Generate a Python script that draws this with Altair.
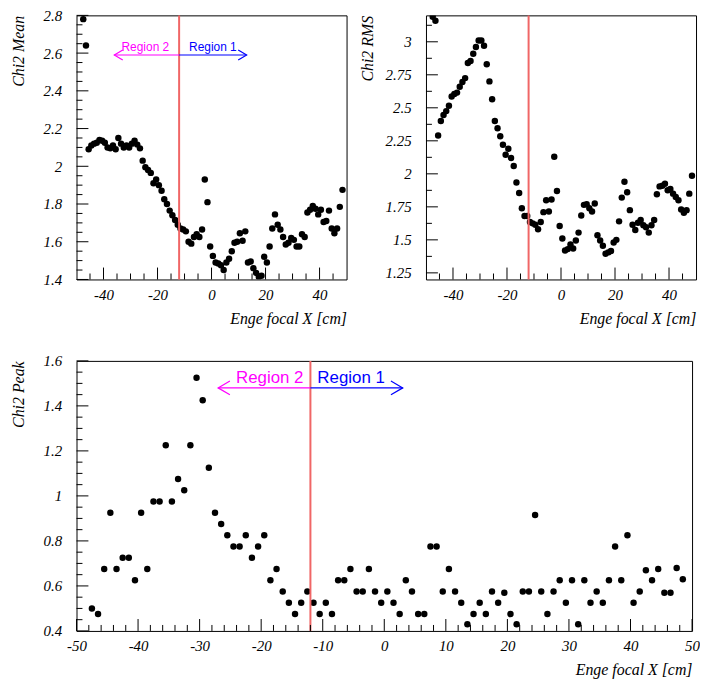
import altair as alt
import pandas as pd

x_centers = [
    -47.5, -46.5, -45.5, -44.5, -43.5, -42.5, -41.5, -40.5, -39.5, -38.5,
    -37.5, -36.5, -35.5, -34.5, -33.5, -32.5, -31.5, -30.5, -29.5, -28.5,
    -27.5, -26.5, -25.5, -24.5, -23.5, -22.5, -21.5, -20.5, -19.5, -18.5,
    -17.5, -16.5, -15.5, -14.5, -13.5, -12.5, -11.5, -10.5, -9.5, -8.5,
    -7.5, -6.5, -5.5, -4.5, -3.5, -2.5, -1.5, -0.5, 0.5, 1.5,
    2.5, 3.5, 4.5, 5.5, 6.5, 7.5, 8.5, 9.5, 10.5, 11.5,
    12.5, 13.5, 14.5, 15.5, 16.5, 17.5, 18.5, 19.5, 20.5, 21.5,
    22.5, 23.5, 24.5, 25.5, 26.5, 27.5, 28.5, 29.5, 30.5, 31.5,
    32.5, 33.5, 34.5, 35.5, 36.5, 37.5, 38.5, 39.5, 40.5, 41.5,
    42.5, 43.5, 44.5, 45.5, 46.5, 47.5, 48.5,
]

chi2_mean = [
    2.78, 2.64, 2.09, 2.11, 2.12, 2.125, 2.14, 2.135, 2.125, 2.10,
    2.095, 2.11, 2.09, 2.15, 2.12, 2.10, 2.11, 2.10, 2.12, 2.135,
    2.115, 2.095, 2.03, 1.995, 1.98, 1.965, 1.91, 1.93, 1.90, 1.87,
    1.825, 1.80, 1.765, 1.74, 1.715, 1.69, 1.67, 1.665, 1.655, 1.60,
    1.59, 1.625, 1.64, 1.625, 1.665, 1.93, 1.81, 1.575, 1.525, 1.49,
    1.485, 1.475, 1.45, 1.49, 1.51, 1.55, 1.595, 1.60, 1.645, 1.605,
    1.655, 1.49, 1.495, 1.46, 1.435, 1.415, 1.42, 1.52, 1.49, 1.575,
    1.67, 1.745, 1.69, 1.665, 1.625, 1.585, 1.595, 1.62, 1.61, 1.575,
    1.575, 1.64, 1.625, 1.755, 1.77, 1.79, 1.775, 1.745, 1.77, 1.705,
    1.71, 1.765, 1.67, 1.645, 1.67, 1.785, 1.875,
]

chi2_rms = [
    3.19, 3.16, 2.29, 2.40, 2.445, 2.475, 2.515, 2.585, 2.605, 2.615,
    2.66, 2.695, 2.725, 2.84, 2.855, 2.91, 2.96, 3.01, 3.01, 2.97,
    2.83, 2.70, 2.565, 2.40, 2.345, 2.285, 2.22, 2.145, 2.19, 2.12,
    2.06, 1.935, 1.855, 1.74, 1.68, 1.68, 1.635, 1.625, 1.615, 1.58,
    1.635, 1.71, 1.80, 1.715, 1.805, 2.13, 1.87, 1.605, 1.51, 1.42,
    1.43, 1.465, 1.435, 1.495, 1.555, 1.685, 1.765, 1.77, 1.74, 1.715,
    1.775, 1.535, 1.495, 1.455, 1.395, 1.405, 1.415, 1.48, 1.50, 1.64,
    1.82, 1.94, 1.86, 1.725, 1.615, 1.575, 1.63, 1.65, 1.61, 1.595,
    1.555, 1.61, 1.65, 1.845, 1.905, 1.91, 1.925, 1.875, 1.885, 1.85,
    1.825, 1.80, 1.73, 1.705, 1.725, 1.85, 1.985,
]

chi2_peak = [
    0.50, 0.475, 0.675, 0.925, 0.675, 0.725, 0.725, 0.625, 0.925, 0.675,
    0.975, 0.975, 1.225, 0.975, 1.075, 1.025, 1.225, 1.525, 1.425, 1.125,
    0.925, 0.875, 0.825, 0.775, 0.775, 0.825, 0.725, 0.775, 0.825, 0.625,
    0.675, 0.575, 0.525, 0.475, 0.525, 0.575, 0.525, 0.475, 0.525, 0.475,
    0.625, 0.625, 0.675, 0.575, 0.575, 0.675, 0.575, 0.525, 0.575, 0.525,
    0.475, 0.625, 0.575, 0.475, 0.475, 0.775, 0.775, 0.575, 0.675, 0.575,
    0.525, 0.43, 0.475, 0.525, 0.475, 0.575, 0.525, 0.57, 0.475, 0.43,
    0.575, 0.575, 0.915, 0.575, 0.475, 0.575, 0.625, 0.525, 0.625, 0.43,
    0.625, 0.525, 0.575, 0.525, 0.625, 0.775, 0.625, 0.825, 0.525, 0.575,
    0.67, 0.625, 0.675, 0.57, 0.57, 0.68, 0.63,
]

# axis tick positions (major ticks carry labels)
top_x_major = [-40, -20, 0, 20, 40]
top_x_minor = [-45, -35, -30, -25, -15, -10, -5, 5, 10, 15, 25, 30, 35, 45]
bottom_x_major = [-50, -40, -30, -20, -10, 0, 10, 20, 30, 40, 50]
bottom_x_minor = [v for v in range(-48, 49, 2) if v % 10 != 0]
mean_y_major = [1.4, 1.6, 1.8, 2, 2.2, 2.4, 2.6, 2.8]
mean_y_minor = [round(1.4 + 0.05 * i, 2) for i in range(29) if i % 4 != 0]
rms_y_major = [1.25, 1.5, 1.75, 2, 2.25, 2.5, 2.75, 3]
rms_y_minor = [1.375, 1.625, 1.875, 2.125, 2.375, 2.625, 2.875, 3.125]
peak_y_major = [0.4, 0.6, 0.8, 1, 1.2, 1.4, 1.6]
peak_y_minor = [round(0.4 + 0.05 * i, 2) for i in range(25) if i % 4 != 0]

x_title = "Enge focal X [cm]"
x_domain = [-50, 50]
boundary_x = -12
SERIF = "Liberation Serif"
SANS = "Liberation Sans"
RED = "#f06666"
MAGENTA = "#ff00ff"
BLUE = "#0000ff"
LEFT_HEAD = "M1.7,-1L0,0L1.7,1"
RIGHT_HEAD = "M-1.7,-1L0,0L-1.7,1"
MAJOR_LEN = 12  # tick lengths in pixels
MINOR_LEN = 6


def make_axis(values, title, orient):
    common = dict(
        values=values,
        title=title,
        domain=False,
        grid=False,
        ticks=False,
        labelExpr="'' + datum.value",
        labelFont=SERIF,
        labelFontStyle="italic",
        labelFontSize=15,
        labelColor="black",
        labelOverlap=False,
        labelFlush=False,
        titleFont=SERIF,
        titleFontStyle="italic",
        titleFontSize=16,
        titleFontWeight="normal",
        titleColor="black",
        titleAnchor="end",
        titleBaseline="middle",
    )
    if orient == "x":
        common.update(labelPadding=8, titleY=39)
    else:
        common.update(labelPadding=15, titleX=-58.5)
    return alt.Axis(**common)


def build_panel(vals, ydom, ymajor, yminor, ytitle, xmajor, xminor, width, height, region=None):
    df = pd.DataFrame({"x": x_centers, "y": vals})
    xs = alt.Scale(domain=x_domain, nice=False, zero=False)
    ys = alt.Scale(domain=ydom, nice=False, zero=False)
    xa = make_axis(xmajor, x_title, "x")
    ya = make_axis(ymajor, ytitle, "y")
    one = pd.DataFrame({"k": [0]})
    x_per_px = (x_domain[1] - x_domain[0]) / width
    y_per_px = (ydom[1] - ydom[0]) / height

    def xq(field):
        return alt.X(field, type="quantitative", scale=xs, axis=xa, title=x_title)

    def yq(field):
        return alt.Y(field, type="quantitative", scale=ys, axis=ya, title=ytitle)

    def xdat(v):
        return alt.XDatum(v, scale=xs, axis=xa, title=x_title, type="quantitative")

    def ydat(v):
        return alt.YDatum(v, scale=ys, axis=ya, title=ytitle, type="quantitative")

    layers = [
        alt.Chart(df).mark_circle(size=42, color="black", opacity=1, clip=True).encode(
            x=xq("x"), y=yq("y")),
        alt.Chart(one).mark_rule(color=RED, strokeWidth=2).encode(x=xdat(boundary_x)),
    ]

    # tick marks drawn inside the frame, one short segment per tick value
    for ticks, ln in [(xmajor, MAJOR_LEN), (xminor, MINOR_LEN)]:
        for t in ticks:
            layers.append(alt.Chart(one).mark_rule(color="black", strokeWidth=1).encode(
                x=xdat(t), y=ydat(ydom[0]), y2=alt.Y2Datum(ydom[0] + ln * y_per_px)))
    for ticks, ln in [(ymajor, MAJOR_LEN), (yminor, MINOR_LEN)]:
        for t in ticks:
            layers.append(alt.Chart(one).mark_rule(color="black", strokeWidth=1).encode(
                y=ydat(t), x=xdat(x_domain[0]), x2=alt.X2Datum(x_domain[0] + ln * x_per_px)))

    if region is not None:
        arrow_y, left_end, right_end, text_size, text_gap, text_dy, head_size = region
        for end, col, head, label, align, sign in [
            (left_end, MAGENTA, LEFT_HEAD, "Region 2", "right", -1),
            (right_end, BLUE, RIGHT_HEAD, "Region 1", "left", 1),
        ]:
            layers.append(alt.Chart(one).mark_rule(color=col, strokeWidth=1.2).encode(
                x=xdat(boundary_x), x2=alt.X2Datum(end), y=ydat(arrow_y),
            ))
            layers.append(alt.Chart(one).mark_point(
                shape=head, size=head_size, filled=False, color=col, strokeWidth=1.2, opacity=1
            ).encode(x=xdat(end), y=ydat(arrow_y)))
            layers.append(alt.Chart(one).mark_text(
                align=align, baseline="middle", dx=sign * text_gap, dy=text_dy,
                font=SANS, fontSize=text_size, color=col
            ).encode(x=xdat(boundary_x), y=ydat(arrow_y), text=alt.TextDatum(label)))
    return alt.layer(*layers).properties(width=width, height=height)


tl = build_panel(chi2_mean, [1.4, 2.8], mean_y_major, mean_y_minor, "Chi2 Mean",
                 top_x_major, top_x_minor, 272, 266,
                 region=(2.59, -36, 13, 12, 10, -8, 100))
tr = build_panel(chi2_rms, [1.2, 3.2], rms_y_major, rms_y_minor, "Chi2 RMS",
                 top_x_major, top_x_minor, 272, 266)
bottom = build_panel(chi2_peak, [0.4, 1.6], peak_y_major, peak_y_minor, "Chi2 Peak",
                     bottom_x_major, bottom_x_minor, 620, 272,
                     region=(1.48, -27, 3, 17, 7, -10, 196))

top = alt.hconcat(tl, tr, spacing=12)
chart = alt.vconcat(top, bottom, spacing=26).properties(
    padding={"left": 2, "top": -3, "right": 0, "bottom": 0}
).configure_view(stroke="black", strokeWidth=1)

chart.save("out.html", embed_options={"renderer": "svg", "actions": False})
